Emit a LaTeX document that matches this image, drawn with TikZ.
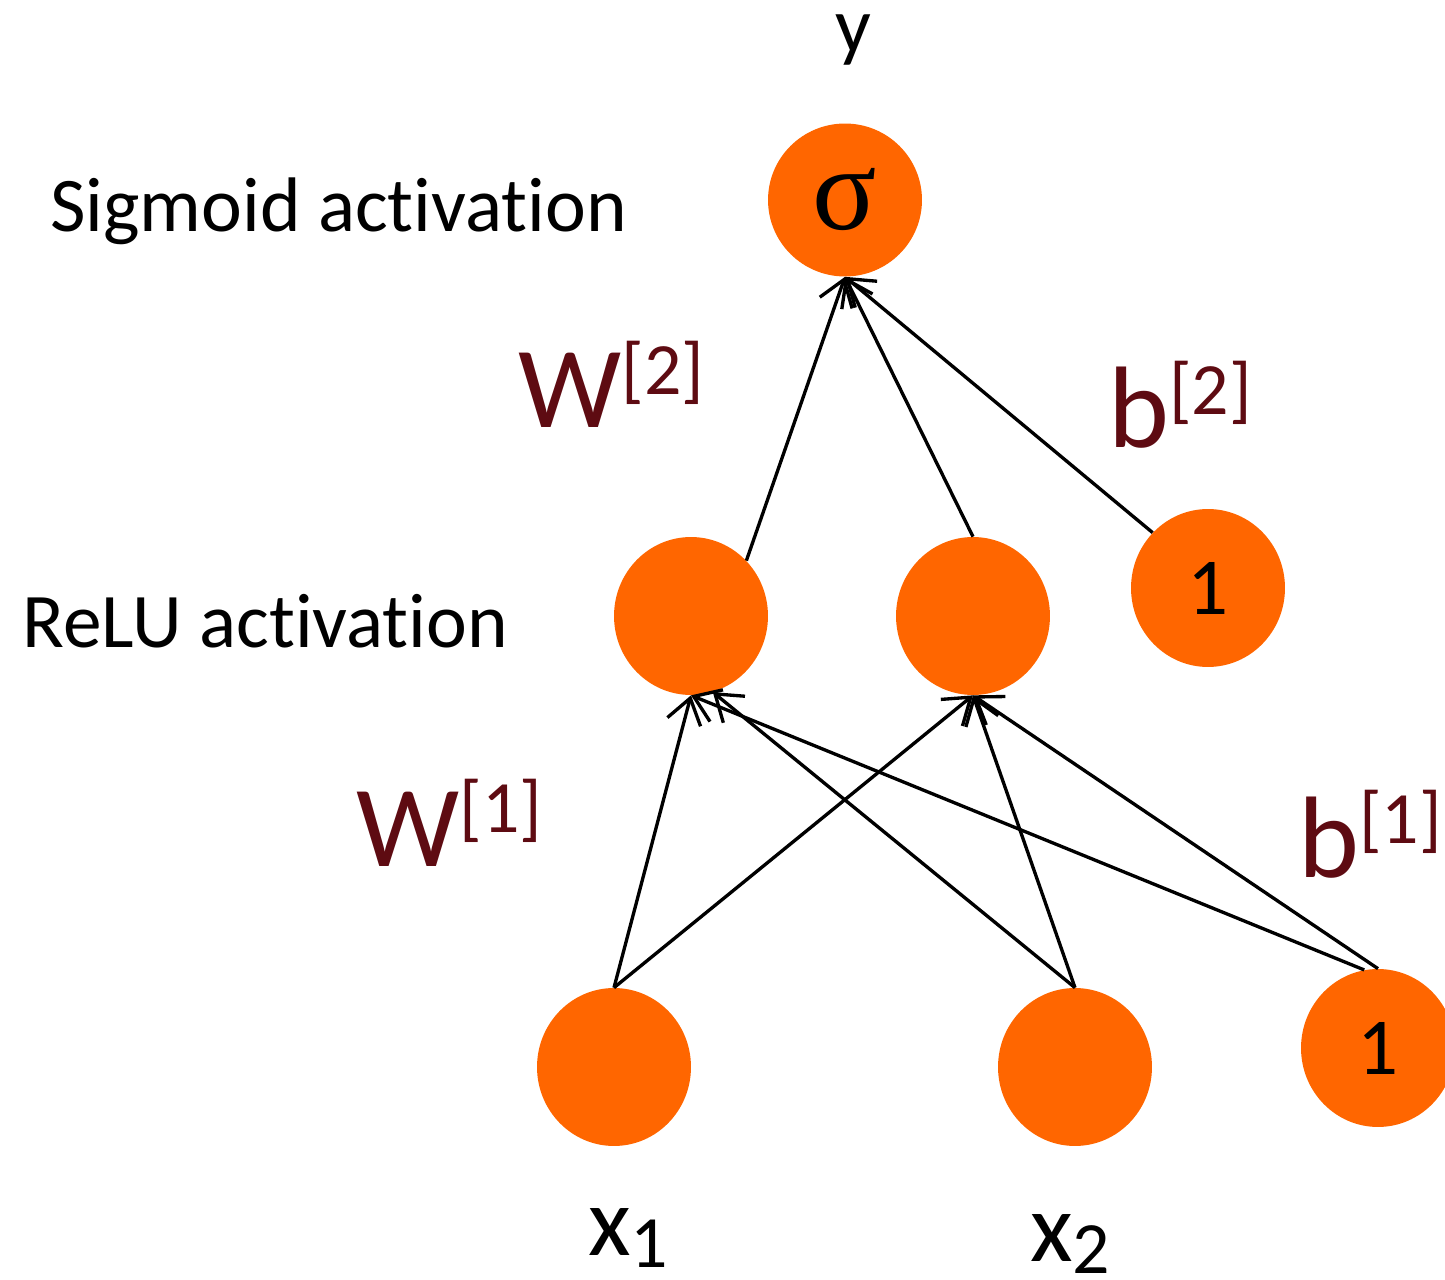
\documentclass[tikz,border=0pt]{standalone}
\usepackage{fontspec}
\setmainfont{Carlito}[RawFeature={-liga}]
\newfontfamily\sigfont{Liberation Serif}
\usetikzlibrary{shapes.geometric,arrows.meta}
\definecolor{neuron}{HTML}{FF6600}
\definecolor{wred}{HTML}{5E0B12}
\newcommand{\fs}[1]{\fontsize{#1}{#1}\selectfont}
\newcommand{\suplab}[2]{{\fs{66pt}#1}\raisebox{19pt}{\fs{42pt}[#2]}}
\begin{document}
\begin{tikzpicture}[x=0.02cm,y=-0.02cm,
  neu/.style={shape=ellipse,fill=neuron,draw=none,inner sep=0pt,minimum width=3.08cm,minimum height=3.16cm},
  arr/.style={line width=1.9pt,-{Straight Barb[length=14pt,width=19.5pt]}},
  lab/.style={inner sep=0pt,anchor=base west},
  wlab/.style={inner sep=0pt,anchor=base west,text=wred}]
\useasboundingbox (0,0) rectangle (1445,1280);
% neurons
\node[neu,minimum height=3.06cm] (sig) at (845,200) {\sigfont\fs{68pt}σ};
\node[neu] (h1) at (691,616) {};
\node[neu] (h2) at (973,616) {};
\node[neu] (b2) at (1208,588) {\fs{46pt}1};
\node[neu] (x1) at (614,1067) {};
\node[neu] (x2) at (1075,1067) {};
\node[neu] (b1) at (1378,1048) {\fs{46pt}1};
% connectors
\draw[arr] (h1.45) -- (sig.south);
\draw[arr] (h2.north) -- (sig.south);
\draw[arr] (b2.135) -- (sig.south);
\draw[arr] (x1.north) -- (h1.south);
\draw[arr] (x1.north) -- (h2.south);
\draw[arr] (x2.north) -- (h1.-74);
\draw[arr] (x2.north) -- (h2.south);
\draw[arr] (b1.100) -- (h1.south);
\draw[arr] (b1.north) -- (h2.south);
% labels
\node[inner sep=0pt,anchor=base] (ylab) at (853,53) {\fs{45pt}y};
\node[lab] (sigact) at (50,232) {\fs{44pt}Sigmoid activation};
\node[lab] (reluact) at (22,648) {\fs{44pt}ReLU activation};
\node[wlab] (w2) at (518,428) {\suplab{W}{2}};
\node[wlab] (bb2) at (1108,448) {\suplab{b}{2}};
\node[wlab] (w1) at (356,866) {\suplab{W}{1}};
\node[wlab] (bb1) at (1298,877) {\suplab{b}{1}};
\node[lab] (xl1) at (588,1255) {\fs{56pt}x\raisebox{-7pt}{\fs{42pt}1}};
\node[lab] (xl2) at (1030,1261) {\fs{56pt}x\raisebox{-7pt}{\fs{42pt}2}};
\end{tikzpicture}
\end{document}
